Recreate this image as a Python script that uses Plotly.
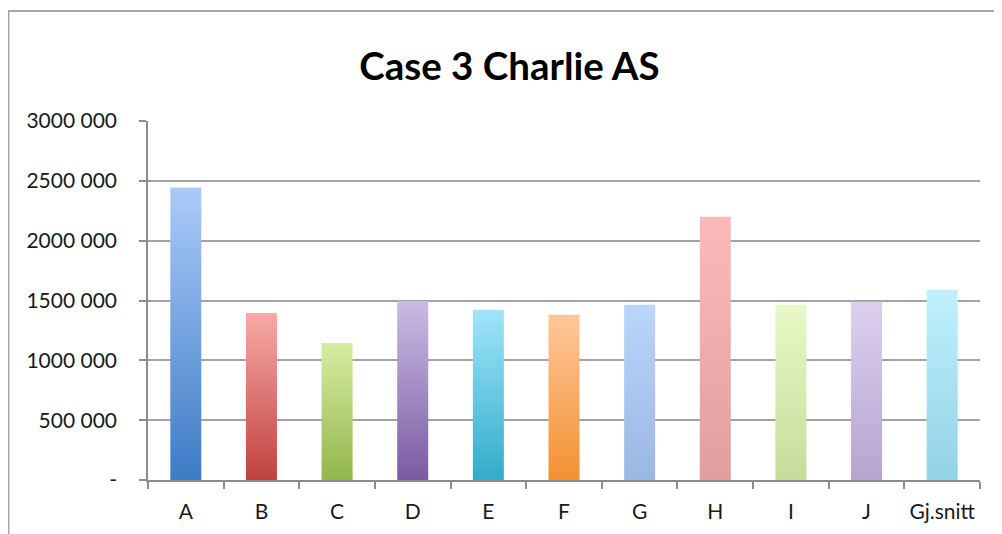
import plotly.graph_objects as go

categories = ["A", "B", "C", "D", "E", "F", "G", "H", "I", "J", "Gj.snitt"]
values = [2445000, 1395000, 1145000, 1495000, 1422000, 1381000, 1464000, 2200000, 1464000, 1490000, 1590000]
bottom_colors = ["#3D7CC4", "#C0423F", "#93B64B", "#7A5BA3", "#31ACCA", "#F39131",
                 "#9AB7E3", "#E29E9E", "#C6DC9A", "#B6A4D0", "#92D2E5"]
top_colors = ["#ABCAF8", "#F8AAA6", "#D6EDA2", "#CBBBE3", "#A0E5FA", "#FFC79A",
              "#BBD5FB", "#FBBABA", "#E8F8C6", "#DCD0EE", "#C0F0FD"]
y_tickvals = [0, 500000, 1000000, 1500000, 2000000, 2500000, 3000000]
y_ticktext = ["-", "500 000", "1000 000", "1500 000", "2000 000", "2500 000", "3000 000"]
title_text = "Case 3 Charlie AS"

BAR_W = 0.41
FONT = "Lato, 'Open Sans', sans-serif"

fig = go.Figure()
for i, (cat, v) in enumerate(zip(categories, values)):
    x0, x1 = i - BAR_W / 2, i + BAR_W / 2
    fig.add_trace(go.Scatter(
        x=[x0, x1, x1, x0, x0],
        y=[0, 0, v, v, 0],
        mode="lines",
        line=dict(width=0, color=bottom_colors[i]),
        fill="toself",
        fillgradient=dict(type="vertical",
                          colorscale=[[0, bottom_colors[i]], [1, top_colors[i]]]),
        name=cat,
        hoverinfo="text",
        text=f"{cat}: {v:,}",
        showlegend=False,
    ))

OFF = 8  # page body margin
W, H = 994, 526
L, T = 148 - OFF, 121 - OFF
R = W + OFF - 980
B = H + OFF - 480
pw, ph = W - L - R, H - T - B

def px_x(px):
    return (px - OFF - L) / pw

def px_y(py):
    return (H - B - (py - OFF)) / ph

fig.update_layout(
    width=W, height=H,
    margin=dict(l=L, r=R, t=T, b=B),
    paper_bgcolor="white",
    plot_bgcolor="white",
    font=dict(family=FONT, size=21, color="#1a1a1a"),
    title=dict(text=f"<b>{title_text}</b>", x=(509.5 - OFF) / W, xref="container",
               xanchor="center",
               y=1 - (67 - OFF) / H, yref="container", yanchor="middle",
               font=dict(family=FONT, size=38.5, color="#000000")),
    xaxis=dict(
        range=[-0.5, len(categories) - 0.5],
        tickmode="array", tickvals=list(range(len(categories))), ticktext=categories,
        ticks="", ticklabelstandoff=12,
        showgrid=False, zeroline=False,
        showline=True, linecolor="#8C8C8C", linewidth=1.5,
        minor=dict(tickmode="array",
                   tickvals=[k - 0.5 for k in range(len(categories) + 1)],
                   ticks="outside", ticklen=7, tickcolor="#8C8C8C", tickwidth=1.5,
                   showgrid=False),
        fixedrange=True,
    ),
    yaxis=dict(
        range=[0, 3000000],
        tickmode="array", tickvals=y_tickvals, ticktext=y_ticktext,
        ticks="outside", ticklen=7, tickcolor="#8C8C8C", tickwidth=1.5,
        ticklabelstandoff=18,
        showgrid=True, gridcolor="#A3A3A3", gridwidth=1.5,
        zeroline=False,
        showline=True, linecolor="#8C8C8C", linewidth=1.5,
        fixedrange=True,
    ),
    shapes=[dict(type="rect", xref="paper", yref="paper",
                 x0=px_x(8.5), x1=px_x(1100), y0=px_y(11), y1=px_y(700),
                 line=dict(color="#A8A8A8", width=2), fillcolor="rgba(0,0,0,0)",
                 layer="below")],
)

fig.write_html("out.html")
